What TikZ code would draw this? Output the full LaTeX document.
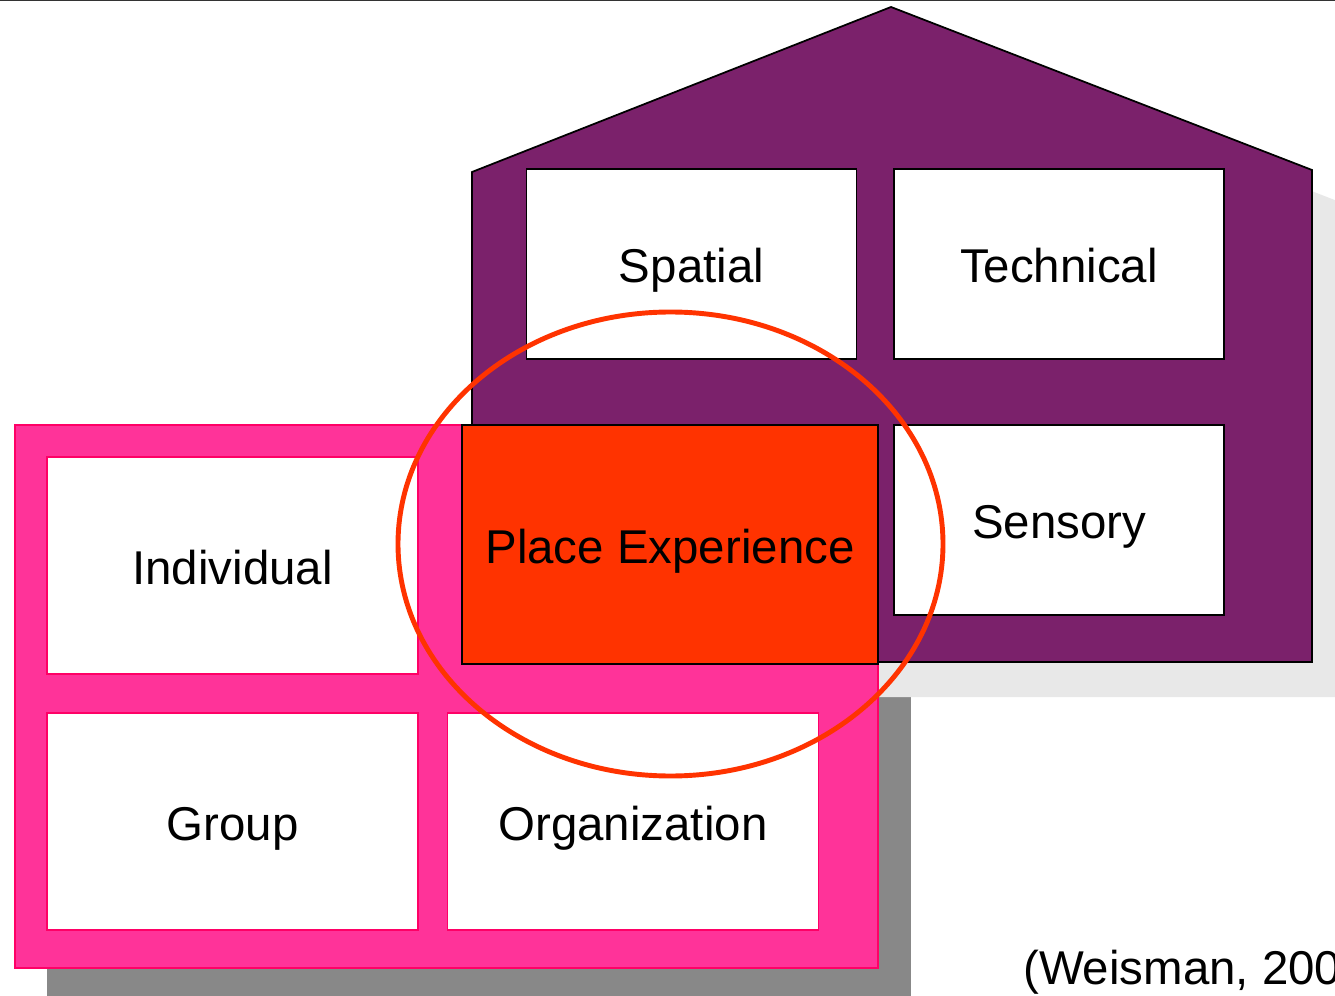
\documentclass[tikz,border=0pt]{standalone}
\usepackage{fontspec}
\setmainfont{Liberation Sans}
\definecolor{housepurple}{RGB}{123,33,107}
\definecolor{framepink}{RGB}{255,51,153}
\definecolor{pinkline}{RGB}{255,0,102}
\definecolor{placered}{RGB}{255,51,0}
\definecolor{lightshadow}{RGB}{232,232,232}
\definecolor{darkshadow}{RGB}{136,136,136}
\tikzset{
  wbox/.style={draw=black,line width=1pt,fill=white,inner sep=0pt,minimum width=6.6cm,minimum height=3.8cm},
  pbox/.style={draw=pinkline,line width=0.8pt,fill=white,inner sep=0pt,minimum width=7.42cm,minimum height=4.34cm},
  lbl/.style={font=\fontsize{27}{32}\selectfont,text height=21.6pt,text depth=0pt}
}
\begin{document}
\begin{tikzpicture}[x=0.02cm,y=-0.02cm]
    \useasboundingbox (0,0) rectangle (1335,996);
    \fill[white] (0,0) rectangle (1335,996);
    \draw[line width=1.4pt,color=black!80] (0,0) -- (1335,0);
    % shadows
    \fill[darkshadow] (47,459) rectangle (911,1002);
    \fill[lightshadow] (505,206) -- (924,41) -- (1345,204) -- (1345,697) -- (505,697) -- cycle;
    % house
    \draw[fill=housepurple,line width=1pt] (472,172) -- (891,7) -- (1312,170) -- (1312,662) -- (472,662) -- cycle;
    \node[wbox,lbl] (spatial) at (691.5,264) {Spatial};
    \node[wbox,lbl] (technical) at (1059,264) {Technical};
    \node[wbox,lbl] (sensory) at (1059,520) {Sensory};
    % people frame
    \draw[fill=framepink,draw=pinkline,line width=0.8pt] (15,425) rectangle (878,968);
    \node[pbox,lbl] (individual) at (232.5,565.5) {Individual};
    \node[pbox,lbl] (group) at (232.5,821.5) {Group};
    \node[pbox,lbl] (organization) at (633,821.5) {Organization};
    \node[wbox,lbl,fill=placered,minimum width=8.32cm,minimum height=4.78cm] (place) at (670,544.5) {Place Experience};
    \draw[color=placered,line width=2.8pt] (670.5,544) ellipse [x radius=272.5,y radius=232];
    \node[lbl,anchor=west] (source) at (1017,966) {(Weisman, 200};
\end{tikzpicture}
\end{document}
